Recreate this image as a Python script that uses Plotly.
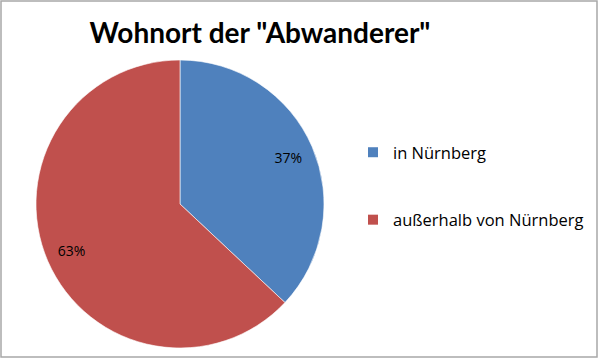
import plotly.graph_objects as go

labels = ["in Nürnberg", "außerhalb von Nürnberg"]
values = [37, 63]
colors = ["#4F81BD", "#C0504D"]
title = 'Wohnort der "Abwanderer"'

W, H = 600, 360
dom = dict(x=[36 / W, 324 / W], y=[1 - 348 / H, 1 - 60 / H])
fig = go.Figure()
# filled pie
fig.add_trace(go.Pie(
    labels=labels, values=values, sort=False, direction="clockwise", rotation=0,
    marker=dict(colors=colors, line=dict(color="white", width=0.6)),
    textinfo="none", domain=dom, showlegend=False, hoverinfo="label+percent",
))
# transparent ring carrying the percent labels near the rim
fig.add_trace(go.Pie(
    labels=labels, values=values, sort=False, direction="clockwise", rotation=0,
    hole=0.64, marker=dict(colors=["rgba(0,0,0,0)"] * len(values), line=dict(width=0)),
    textinfo="percent", textposition="inside", insidetextorientation="horizontal",
    texttemplate="%{percent:.0%}",
    textfont=dict(family="Open Sans", size=14, color="black"),
    domain=dom, showlegend=False, hoverinfo="skip",
))
for i, (lab, col) in enumerate(zip(labels, colors)):
    fig.add_trace(go.Scatter(
        x=[None], y=[None], mode="markers", name=lab, legendgroup=f"g{i}",
        marker=dict(symbol="square", size=10, color=col),
    ))

fig.update_layout(
    width=W, height=H, margin=dict(l=0, r=0, t=0, b=0),
    paper_bgcolor="white", plot_bgcolor="white",
    title=dict(text=f"<b>{title}</b>", x=260 / W, xanchor="center",
               y=1 - 33 / H, yanchor="middle",
               font=dict(family="Lato", size=28, color="black")),
    xaxis=dict(visible=False), yaxis=dict(visible=False),
    legend=dict(x=353 / W, xanchor="left", y=1 - 135 / H, yanchor="top",
                font=dict(family="Open Sans", size=16.5, color="black"),
                tracegroupgap=43, bgcolor="rgba(0,0,0,0)"),
    shapes=[dict(type="rect", xref="paper", yref="paper", x0=1 / W, x1=597 / W,
                 y0=1 - 357 / H, y1=1 - 1 / H, line=dict(color="#a8a8a8", width=1.5))],
)
fig.write_html("out.html")
